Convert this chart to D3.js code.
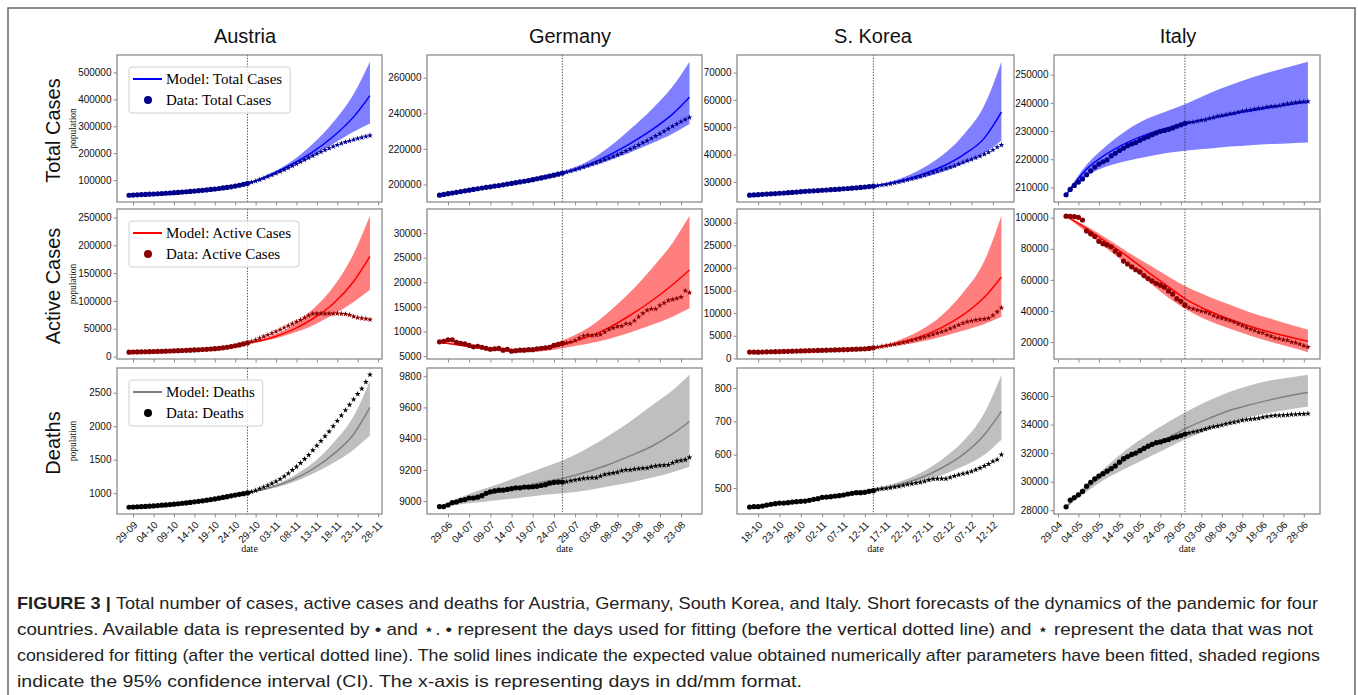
<!DOCTYPE html>
<html>
<head>
<meta charset="utf-8">
<style>
body, html {
	margin: 0;
	width: 100%;
	height: 100%;
	background: #fff;
}
svg { display: block; }
</style>
</head>
<body>
<div id="chartContainer"></div>

<script src="https://cdn.jsdelivr.net/npm/d3@7/dist/d3.min.js"></script>
<script>

// ---- data ----
const countries = ["Austria", "Germany", "S. Korea", "Italy"];
const rowNames = ["Total Cases", "Active Cases", "Deaths"];
const firstDays = ["2020-09-28", "2020-06-27", "2020-10-16", "2020-05-01"];
const fitEndDays = ["2020-10-27", "2020-07-26", "2020-11-14", "2020-05-30"];
const tickYear = [2020, 2020, 2020, 2020];

const austriaTicksX = ["29-09","04-10","09-10","14-10","19-10","24-10","29-10","03-11","08-11","13-11","18-11","23-11","28-11"];
const germanyTicksX = ["29-06","04-07","09-07","14-07","19-07","24-07","29-07","03-08","08-08","13-08","18-08","23-08"];
const koreaTicksX = ["18-10","23-10","28-10","02-11","07-11","12-11","17-11","22-11","27-11","02-12","07-12","12-12"];
const italyTicksX = ["29-04","04-05","09-05","14-05","19-05","24-05","29-05","03-06","08-06","13-06","18-06","23-06","28-06"];

const austriaTicksY = [[100000,200000,300000,400000,500000],[0,50000,100000,150000,200000,250000],[1000,1500,2000,2500]];
const germanyTicksY = [[200000,220000,240000,260000],[5000,10000,15000,20000,25000,30000],[9000,9200,9400,9600,9800]];
const koreaTicksY = [[30000,40000,50000,60000,70000],[0,5000,10000,15000,20000,25000,30000],[500,600,700,800]];
const italyTicksY = [[210000,220000,230000,240000,250000],[20000,40000,60000,80000,100000],[28000,30000,32000,34000,36000]];

// daily observations, 60 days per country
const austriaTotal = [44000,44700,45500,46300,47000,47800,48600,49500,50400,51400,52400,53500,54600,55700,56900,58200,59500,60900,62400,63900,65500,67200,69000,71000,73100,75400,78000,81000,84500,88000,
	92000,96500,101500,107000,113000,119000,125000,131500,138500,145500,153000,160500,168000,175500,183000,190500,198000,205000,212000,218500,225000,231000,236500,241500,246000,250500,254500,258500,262000,266000];
const austriaActive = [8000,8200,8400,8500,8700,8900,9100,9300,9500,9700,10000,10300,10600,10900,11200,11500,11900,12300,12700,13100,13600,14200,14900,15800,16800,18000,19500,21000,22800,24500,
	27000,30000,33000,36000,39000,42000,45000,48500,52000,55500,59000,62500,66000,70000,74000,77000,77500,77500,77000,77500,77000,77500,77000,76500,75000,72000,70000,69000,68000,66500];
const austriaDeaths = [790,792,795,798,802,806,810,815,820,825,830,836,842,848,855,862,870,878,886,895,904,914,925,936,948,960,972,983,993,1003,
	1020,1040,1065,1090,1115,1145,1175,1210,1250,1295,1345,1395,1450,1510,1570,1640,1710,1780,1850,1920,2000,2080,2160,2240,2320,2400,2480,2560,2660,2770];

const germanyTotal = [194000,194400,194800,195200,195600,196000,196400,196800,197200,197600,198000,198400,198700,199100,199400,199800,200200,200600,201000,201400,201800,202200,202700,203200,203700,204200,204700,205200,205800,206400,
	207000,207600,208300,209000,209800,210600,211400,212200,213000,213900,214800,215700,216700,217700,218800,219900,221000,222200,223400,224600,225900,227200,228500,229900,231300,232700,234000,235300,236500,237700];
const germanyActive = [7900,8000,8300,8300,7800,7600,7500,7200,6900,7000,6800,6600,6400,6500,6600,6200,6400,6000,6100,6200,6200,6300,6300,6500,6600,6700,6800,7200,7400,7600,
	7700,7900,8200,8700,9100,9300,9200,9300,9400,9900,10400,10700,11000,11100,11600,11600,12200,13000,13700,14300,14600,14600,15300,15800,16300,16500,16700,17000,18300,17900];
const germanyDeaths = [8965,8965,8975,8990,8995,9005,9010,9020,9020,9025,9035,9050,9060,9065,9070,9070,9075,9080,9085,9085,9090,9090,9092,9095,9100,9105,9115,9120,9122,9122,
	9125,9130,9135,9140,9145,9147,9150,9150,9160,9170,9175,9180,9185,9195,9200,9200,9205,9208,9210,9212,9220,9225,9228,9230,9232,9245,9255,9260,9265,9280];

const koreaTotal = [25100,25200,25300,25400,25500,25600,25700,25800,25900,26000,26100,26250,26400,26500,26600,26700,26800,26900,27000,27100,27200,27300,27450,27550,27650,27800,27950,28100,28250,28400,
	28600,28800,29000,29300,29600,29900,30300,30700,31100,31500,31900,32400,32900,33400,33900,34400,34900,35400,35900,36500,37100,37700,38200,38800,39400,40100,40800,41700,42700,43500];
const koreaActive = [1400,1400,1380,1420,1450,1480,1500,1520,1550,1570,1600,1620,1650,1680,1720,1750,1770,1800,1830,1860,1880,1900,1930,1960,2000,2040,2080,2130,2200,2350,
	2500,2650,2800,2950,3100,3300,3500,3700,3950,4200,4450,4700,5000,5300,5600,5900,6200,6600,7000,7400,7800,8100,8300,8500,8600,8700,8900,9500,10300,11200];
const koreaDeaths = [443,444,444,446,449,451,453,455,455,456,458,459,460,461,463,466,468,472,473,474,476,477,479,482,484,486,486,487,490,492,
	496,498,499,501,503,505,508,511,513,515,517,520,524,527,528,528,528,532,536,540,543,546,550,555,560,566,572,580,585,600];

const italyTotal = [207400,209300,210700,211900,213000,214500,215900,217200,218300,219100,219800,221200,222100,223100,223900,224800,225400,225900,226700,227400,228000,228700,229300,229900,230200,230600,231100,231700,232200,232700,
	233000,233200,233500,233800,234000,234500,234800,235300,235500,235800,236100,236300,236700,237000,237300,237500,237800,238000,238200,238500,238700,238800,239000,239400,239700,239900,240100,240300,240400,240500];
const italyActive = [101000,100900,100700,100200,98500,91500,89600,87900,84800,83300,82500,81300,78500,76400,72100,70200,68400,66500,65100,62800,60900,59300,57800,56600,55300,52900,50900,47900,46200,43700,
	42100,41400,40600,39900,39300,38400,37000,36000,35300,34700,33800,32900,31700,30600,29400,28300,27500,26300,25900,24600,23700,22700,22200,21500,21200,20000,19600,18700,17600,16800];
const italyDeaths = [28236,28710,28884,29079,29315,29684,29958,30201,30395,30560,30739,30911,31106,31368,31610,31763,31908,32007,32169,32330,32486,32616,32735,32785,32877,32955,33072,33142,33229,33340,
	33415,33475,33530,33601,33689,33774,33846,33899,33964,34043,34114,34167,34223,34301,34345,34371,34405,34448,34514,34561,34610,34634,34644,34657,34675,34708,34716,34738,34744,34767];

// model mean and 95% band, sampled at these day offsets
const modelDays = [0,5,10,15,20,25,29,35,40,45,50,55,59];

const austriaTotalModel = [44000,47800,52400,58200,65500,75400,88000,122000,160000,205000,262000,335000,414000];
const austriaTotalHigh  = [44300,48200,53000,59000,66500,76800,90000,128000,172000,235000,315000,420000,540000];
const austriaTotalLow   = [43700,47400,51800,57400,64500,74000,86000,116000,150000,190000,235000,280000,310000];
const austriaActiveModel = [8000,9000,10500,12500,15000,19000,24000,34000,48000,68000,95000,135000,180000];
const austriaActiveHigh  = [8100,9200,10800,13000,15800,20200,26000,38000,56000,85000,125000,185000,253000];
const austriaActiveLow   = [7900,8800,10200,12000,14200,17800,22500,31000,42000,56000,75000,98000,120000];
const austriaDeathsModel = [790,806,830,862,905,960,1003,1090,1200,1360,1580,1880,2280];
const austriaDeathsHigh  = [792,810,836,870,915,972,1012,1110,1250,1450,1750,2150,2680];
const austriaDeathsLow   = [788,802,824,855,895,948,994,1070,1160,1290,1450,1650,1860];

const germanyTotalModel = [194000,196000,198000,199800,201900,204200,206400,211000,216500,223000,230500,239500,249000];
const germanyTotalHigh  = [194100,196300,198500,200500,202800,205400,207400,213000,221000,231000,242000,255000,269000];
const germanyTotalLow   = [193900,195700,197500,199100,201000,203000,205400,209500,213500,218000,223000,228500,234000];
const germanyActiveModel = [7800,7200,6600,6200,6100,6500,7300,8900,10800,13300,16200,19500,22500];
const germanyActiveHigh  = [7900,7350,6800,6450,6450,7000,8200,10700,14000,18000,22700,28000,33500];
const germanyActiveLow   = [7700,7050,6400,5950,5800,6050,6600,7500,8500,9800,11300,13000,14700];
const germanyDeathsModel = [8965,9000,9035,9065,9095,9125,9145,9190,9235,9290,9350,9430,9510];
const germanyDeathsHigh  = [8970,9025,9075,9120,9170,9220,9260,9340,9420,9510,9610,9710,9810];
const germanyDeathsLow   = [8960,8980,8995,9010,9025,9040,9050,9070,9095,9120,9150,9185,9220];

const koreaTotalModel = [25100,25600,26100,26700,27250,27800,28400,30200,32500,35500,39800,46000,55500];
const koreaTotalHigh  = [25150,25680,26220,26850,27450,28080,28750,31000,34500,39500,47000,58000,74000];
const koreaTotalLow   = [25050,25520,25980,26550,27050,27520,28050,29600,31300,33500,36500,40500,45000];
const koreaActiveModel = [1400,1480,1600,1750,1900,2080,2350,3400,4800,6800,9600,13500,18000];
const koreaActiveHigh  = [1420,1510,1640,1800,1970,2180,2500,4000,6200,9500,14500,21500,31500];
const koreaActiveLow   = [1380,1450,1560,1700,1830,1990,2220,2900,3700,4800,6100,7600,9200];
const koreaDeathsModel = [443,451,458,466,476,485,493,510,530,560,600,660,730];
const koreaDeathsHigh  = [444,453,461,470,481,491,500,518,545,585,640,725,840];
const koreaDeathsLow   = [442,449,455,462,471,479,487,503,518,538,565,600,645];

const italyTotalModel = [207400,216500,222000,226000,229000,231200,232700,234400,235900,237200,238400,239500,240400];
const italyTotalHigh  = [207600,218000,225000,230500,234500,237300,239500,243400,246200,248800,251000,253000,254600];
const italyTotalLow   = [207200,214000,217500,219500,221000,222300,223000,223800,224500,225000,225400,225700,225900];
const italyActiveModel = [101000,93000,84000,75000,65000,55500,48000,39800,34500,30000,26200,23000,20500];
const italyActiveHigh  = [101200,94500,86500,78000,70000,62000,56000,49000,44000,39000,35000,31000,28000];
const italyActiveLow   = [100800,90500,80000,69500,59000,48500,41500,33500,28500,24000,20000,16500,13500];
const italyDeathsModel = [28236,29550,30650,31600,32400,33100,33700,34450,35000,35400,35750,36050,36250];
const italyDeathsHigh  = [28300,29800,31100,32300,33300,34200,34850,35700,36300,36750,37100,37320,37500];
const italyDeathsLow   = [28200,29300,30250,31000,31700,32400,32950,33650,34150,34550,34850,35100,35250];

const captionLines = [
	"Total number of cases, active cases and deaths for Austria, Germany, South Korea, and Italy. Short forecasts of the dynamics of the pandemic for four",
	"countries. Available data is represented by \u2022 and \u22c6. \u2022 represent the days used for fitting (before the vertical dotted line) and \u22c6 represent the data that was not",
	"considered for fitting (after the vertical dotted line). The solid lines indicate the expected value obtained numerically after parameters have been fitted, shaded regions",
	"indicate the 95% confidence interval (CI). The x-axis is representing days in dd/mm format."
];

// ---- tables built from the arrays ----
const dataSeries = [
	[austriaTotal, austriaActive, austriaDeaths],
	[germanyTotal, germanyActive, germanyDeaths],
	[koreaTotal, koreaActive, koreaDeaths],
	[italyTotal, italyActive, italyDeaths]
];
const modelSeries = [
	[austriaTotalModel, austriaActiveModel, austriaDeathsModel],
	[germanyTotalModel, germanyActiveModel, germanyDeathsModel],
	[koreaTotalModel, koreaActiveModel, koreaDeathsModel],
	[italyTotalModel, italyActiveModel, italyDeathsModel]
];
const highSeries = [
	[austriaTotalHigh, austriaActiveHigh, austriaDeathsHigh],
	[germanyTotalHigh, germanyActiveHigh, germanyDeathsHigh],
	[koreaTotalHigh, koreaActiveHigh, koreaDeathsHigh],
	[italyTotalHigh, italyActiveHigh, italyDeathsHigh]
];
const lowSeries = [
	[austriaTotalLow, austriaActiveLow, austriaDeathsLow],
	[germanyTotalLow, germanyActiveLow, germanyDeathsLow],
	[koreaTotalLow, koreaActiveLow, koreaDeathsLow],
	[italyTotalLow, italyActiveLow, italyDeathsLow]
];
const xTickSeries = [austriaTicksX, germanyTicksX, koreaTicksX, italyTicksX];
const yTickSeries = [austriaTicksY, germanyTicksY, koreaTicksY, italyTicksY];

// ---- layout ----
const WIDTH = 1358, HEIGHT = 695;
const COL_X = [[117, 382], [427, 702], [737, 1014], [1054, 1320]];
const ROW_Y = [[55, 202], [209, 359], [368, 514]];
const TITLE_X = [245, 570, 873, 1178];

const SERIF = "'Liberation Serif','Times New Roman',serif";
const SANS = "'Liberation Sans',Arial,Helvetica,sans-serif";
const SPINE_COLOR = '#8c8c8c';

const rowStyle = [
	{ line: '#0000ff', fill: '#0000ff', dot: '#00008b' },
	{ line: '#ff0000', fill: '#ff0000', dot: '#8b0000' },
	{ line: '#808080', fill: '#808080', dot: '#000000' }
];

const DOT_R = 2.6;
const STAR_SIZE = 11;

const parseDay = d3.utcParse("%Y-%m-%d");
const parseTick = d3.utcParse("%d-%m-%Y");
const fmtTick = d3.utcFormat("%d-%m");

var svg = d3.select("#chartContainer").append("svg")
	.attr("width", WIDTH)
	.attr("height", HEIGHT)
	.style("background", "#fff");

// outer frame of the figure
svg.append("rect")
	.attr("x", 8).attr("y", 8)
	.attr("width", 1347).attr("height", 720)
	.attr("fill", "none")
	.attr("stroke", "#666")
	.attr("stroke-width", 1.5);

function drawPanel(c, r) {
	const [x0, x1] = COL_X[c];
	const [y0, y1] = ROW_Y[r];
	const style = rowStyle[r];
	const data = dataSeries[c][r];
	const start = parseDay(firstDays[c]);
	const fitEnd = parseDay(fitEndDays[c]);
	const days = data.map((v, i) => d3.utcDay.offset(start, i));

	// matplotlib-like 5% margins
	const span = days[days.length - 1] - days[0];
	const x = d3.scaleUtc()
		.domain([new Date(+days[0] - span * 0.05), new Date(+days[days.length - 1] + span * 0.05)])
		.range([x0, x1]);

	const all = data.concat(lowSeries[c][r], highSeries[c][r]);
	const [lo, hi] = d3.extent(all);
	const pad = (hi - lo) * 0.05;
	const y = d3.scaleLinear().domain([lo - pad, hi + pad]).range([y1, y0]);

	const g = svg.append("g").attr("class", "panel");

	const band = modelDays.map((d, i) => ({
		date: d3.utcDay.offset(start, d),
		mean: modelSeries[c][r][i],
		low: lowSeries[c][r][i],
		high: highSeries[c][r][i]
	}));

	g.append("path")
		.datum(band)
		.attr("fill", style.fill)
		.attr("fill-opacity", 0.5)
		.attr("d", d3.area()
			.curve(d3.curveMonotoneX)
			.x(d => x(d.date))
			.y0(d => y(d.low))
			.y1(d => y(d.high)));

	g.append("path")
		.datum(band)
		.attr("fill", "none")
		.attr("stroke", style.line)
		.attr("stroke-width", 1.5)
		.attr("d", d3.line()
			.curve(d3.curveMonotoneX)
			.x(d => x(d.date))
			.y(d => y(d.mean)));

	// cut-off between fitted and held-out days
	g.append("line")
		.attr("x1", x(fitEnd)).attr("x2", x(fitEnd))
		.attr("y1", y0).attr("y2", y1)
		.attr("stroke", "#333")
		.attr("stroke-width", 0.9)
		.attr("stroke-dasharray", "1.3,1.5");

	const pts = data.map((v, i) => ({ date: days[i], value: v }));
	g.selectAll(".dot")
		.data(pts.filter(d => d.date <= fitEnd))
		.enter().append("circle")
			.attr("class", "dot")
			.attr("cx", d => x(d.date))
			.attr("cy", d => y(d.value))
			.attr("r", DOT_R)
			.attr("fill", style.dot);

	g.selectAll(".star")
		.data(pts.filter(d => d.date > fitEnd))
		.enter().append("path")
			.attr("class", "star")
			.attr("transform", d => `translate(${x(d.date)},${y(d.value)})`)
			.attr("d", d3.symbol(d3.symbolStar, STAR_SIZE))
			.attr("fill", style.dot);

	// axes
	const yAxis = d3.axisLeft(y)
		.tickValues(yTickSeries[c][r])
		.tickSize(3.5)
		.tickPadding(2)
		.tickFormat(d3.format("d"));
	const gy = g.append("g")
		.attr("transform", `translate(${x0},0)`)
		.attr("font-family", SERIF)
		.attr("font-size", 11)
		.call(yAxis);
	gy.select(".domain").remove();
	gy.selectAll("line").attr("stroke", SPINE_COLOR);
	gy.selectAll("text").attr("fill", "#111");

	const tickDates = xTickSeries[c].map(t => parseTick(t + "-" + tickYear[c]));
	const xAxis = d3.axisBottom(x)
		.tickValues(tickDates)
		.tickSize(3.5)
		.tickFormat(r === 2 ? fmtTick : "");
	const gx = g.append("g")
		.attr("transform", `translate(0,${y1})`)
		.attr("font-family", SERIF)
		.attr("font-size", 10.5)
		.call(xAxis);
	gx.select(".domain").remove();
	gx.selectAll("line").attr("stroke", SPINE_COLOR);
	if (r === 2) {
		gx.selectAll("text")
			.attr("fill", "#111")
			.attr("x", 0)
			.attr("y", 0)
			.attr("dy", "0.35em")
			.attr("text-anchor", "end")
			.attr("transform", "translate(2,9) rotate(-45)");
		g.append("text")
			.attr("x", (x0 + x1) / 2)
			.attr("y", 552)
			.attr("text-anchor", "middle")
			.attr("font-family", SERIF)
			.attr("font-size", 10)
			.attr("fill", "#111")
			.text("date");
	}

	g.append("rect")
		.attr("x", x0).attr("y", y0)
		.attr("width", x1 - x0).attr("height", y1 - y0)
		.attr("fill", "none")
		.attr("stroke", SPINE_COLOR)
		.attr("stroke-width", 1.3);

	if (c === 0) drawLegend(g, x0 + 12, y0 + 12, r);
}

function drawLegend(g, lx, ly, r) {
	const style = rowStyle[r];
	const leg = g.append("g").attr("class", "legend");
	const box = leg.append("rect")
		.attr("x", lx).attr("y", ly)
		.attr("height", 46)
		.attr("rx", 3)
		.attr("fill", "#fff")
		.attr("fill-opacity", 0.85)
		.attr("stroke", "#d0d0d0")
		.attr("stroke-width", 1);

	leg.append("line")
		.attr("x1", lx + 4).attr("x2", lx + 33)
		.attr("y1", ly + 12).attr("y2", ly + 12)
		.attr("stroke", style.line)
		.attr("stroke-width", 2);
	leg.append("circle")
		.attr("cx", lx + 19).attr("cy", ly + 33)
		.attr("r", 4)
		.attr("fill", style.dot);

	const t1 = leg.append("text")
		.attr("x", lx + 37).attr("y", ly + 17)
		.attr("font-family", SERIF).attr("font-size", 15)
		.text("Model: " + rowNames[r]);
	const t2 = leg.append("text")
		.attr("x", lx + 37).attr("y", ly + 38)
		.attr("font-family", SERIF).attr("font-size", 15)
		.text("Data: " + rowNames[r]);
	const w = Math.max(t1.node().getComputedTextLength(), t2.node().getComputedTextLength());
	box.attr("width", w + 45);
}

countries.forEach((name, c) => {
	svg.append("text")
		.attr("x", TITLE_X[c])
		.attr("y", 43)
		.attr("text-anchor", "middle")
		.attr("font-family", SANS)
		.attr("font-size", 20)
		.attr("fill", "#111")
		.text(name);
	rowNames.forEach((rn, r) => drawPanel(c, r));
});

rowNames.forEach((rn, r) => {
	const cy = (ROW_Y[r][0] + ROW_Y[r][1]) / 2 + 2;
	svg.append("text")
		.attr("transform", `translate(60,${cy}) rotate(-90)`)
		.attr("text-anchor", "middle")
		.attr("font-family", SANS)
		.attr("font-size", 20)
		.attr("fill", "#111")
		.text(rn);
	svg.append("text")
		.attr("transform", `translate(76,${cy - 2}) rotate(-90)`)
		.attr("text-anchor", "middle")
		.attr("font-family", SERIF)
		.attr("font-size", 9.5)
		.attr("fill", "#111")
		.text("population");
});

// caption, glyphs widened to the printed line lengths
const captionEnds = [1318, 1313, 1320, 802];
captionLines.forEach((line, i) => {
	const t = svg.append("text")
		.attr("x", 17)
		.attr("y", 609 + i * 26)
		.attr("font-family", SANS)
		.attr("font-size", 17)
		.attr("fill", "#222")
		.attr("textLength", captionEnds[i] - 17)
		.attr("lengthAdjust", "spacingAndGlyphs");
	if (i === 0) {
		t.append("tspan").attr("font-weight", "bold").text("FIGURE 3 | ");
	}
	t.append("tspan").text(line);
});

</script>
</body>
</html>
